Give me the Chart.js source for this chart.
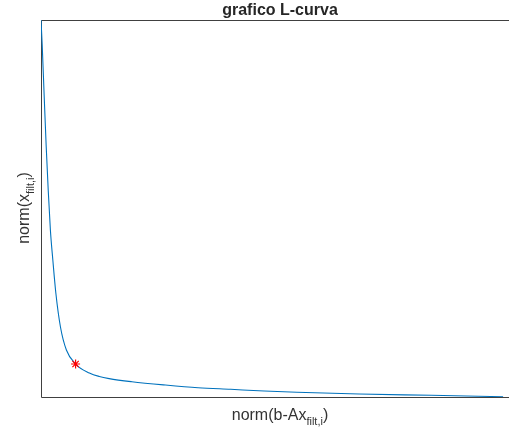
<!DOCTYPE html>
<html>
<head>
<meta charset="utf-8">
<script src="https://cdn.jsdelivr.net/npm/chart.js@4"></script>
<style>
  html, body { margin: 0; padding: 0; background: #fff; }
  #wrap { width: 509px; height: 432px; position: relative; }
</style>
</head>
<body>
<div id="wrap"><canvas id="c" width="509" height="432"></canvas></div>
<script>
// Data (arbitrary units, axes have no tick labels)
const residualNorm = [0, 0.26, 0.68, 1.11, 1.56, 2.03, 2.56, 3.21, 4.21, 5.49, 7.48, 10.47, 12.61, 14.74, 19.66, 26.92, 33.97, 41.03, 48.29, 55.34, 68.80, 84.40, 100];
const solutionNorm = [100, 93.37, 80.11, 66.84, 54.91, 44.30, 36.34, 27.59, 18.57, 12.47, 8.75, 6.37, 5.44, 4.88, 4.06, 3.18, 2.47, 2.04, 1.59, 1.25, 0.80, 0.45, 0.08];
const cornerX = [7.48];
const cornerY = [8.75];

const titleText = 'grafico L-curva';
const xLabelMain = 'norm(b-Ax';
const xLabelSub = 'filt,i';
const yLabelMain = 'norm(x';
const yLabelSub = 'filt,i';
const labelClose = ')';

const FONT = '"Liberation Sans", Arial, Helvetica, sans-serif';

function drawSubLabel(ctx, main, sub, close, mainSize, subSize, subDrop) {
  ctx.font = mainSize + 'px ' + FONT;
  const w1 = ctx.measureText(main).width;
  const w3 = ctx.measureText(close).width;
  ctx.font = subSize + 'px ' + FONT;
  const w2 = ctx.measureText(sub).width;
  const total = w1 + w2 + w3;
  let x = -total / 2;
  ctx.textAlign = 'left';
  ctx.textBaseline = 'alphabetic';
  ctx.font = mainSize + 'px ' + FONT;
  ctx.fillText(main, x, 0);
  x += w1;
  ctx.font = subSize + 'px ' + FONT;
  ctx.fillText(sub, x, subDrop);
  x += w2;
  ctx.font = mainSize + 'px ' + FONT;
  ctx.fillText(close, x, 0);
}

const decor = {
  id: 'decor',
  beforeDatasetsDraw(chart) {
    const {ctx, chartArea: a} = chart;
    ctx.save();
    ctx.strokeStyle = '#404040';
    ctx.lineWidth = 1;
    ctx.beginPath();
    ctx.moveTo(chart.width + 2, a.top + 0.5);
    ctx.lineTo(a.left + 0.5, a.top + 0.5);
    ctx.lineTo(a.left + 0.5, a.bottom + 0.5);
    ctx.lineTo(chart.width + 2, a.bottom + 0.5);
    ctx.stroke();
    ctx.restore();
  },
  afterDraw(chart) {
    const {ctx} = chart;
    ctx.save();
    ctx.fillStyle = '#262626';
    // title
    ctx.font = 'bold 16px ' + FONT;
    ctx.textAlign = 'center';
    ctx.textBaseline = 'alphabetic';
    ctx.fillText(titleText, 280, 15);
    // x label
    ctx.save();
    ctx.fillStyle = '#333333';
    ctx.translate(280, 420);
    drawSubLabel(ctx, xLabelMain, xLabelSub, labelClose, 16, 11, 5);
    ctx.restore();
    // y label
    ctx.save();
    ctx.fillStyle = '#333333';
    ctx.translate(29, 208);
    ctx.rotate(-Math.PI / 2);
    drawSubLabel(ctx, yLabelMain, yLabelSub, labelClose, 16, 11, 5);
    ctx.restore();
    ctx.restore();
  }
};

new Chart(document.getElementById('c'), {
  type: 'scatter',
  data: {
    datasets: [
      {
        data: cornerX.map((x, i) => ({x, y: cornerY[i]})),
        pointStyle: 'star',
        radius: 4.5,
        borderColor: '#FF0000',
        backgroundColor: '#FF0000',
        borderWidth: 1.2,
        showLine: false,
        order: 0
      },
      {
        data: residualNorm.map((x, i) => ({x, y: solutionNorm[i]})),
        showLine: true,
        borderColor: '#0072BD',
        borderWidth: 1.1,
        pointRadius: 0,
        fill: false,
        cubicInterpolationMode: 'monotone',
        order: 1
      }
    ]
  },
  options: {
    responsive: false,
    animation: false,
    devicePixelRatio: 1,
    layout: { padding: { left: 41, top: 20, right: 0, bottom: 35 } },
    plugins: { legend: { display: false }, title: { display: false }, tooltip: { enabled: false } },
    scales: {
      x: { type: 'linear', display: false, min: 0, max: 100 },
      y: { type: 'linear', display: false, min: 0, max: 100 }
    }
  },
  plugins: [decor]
});
</script>
</body>
</html>
